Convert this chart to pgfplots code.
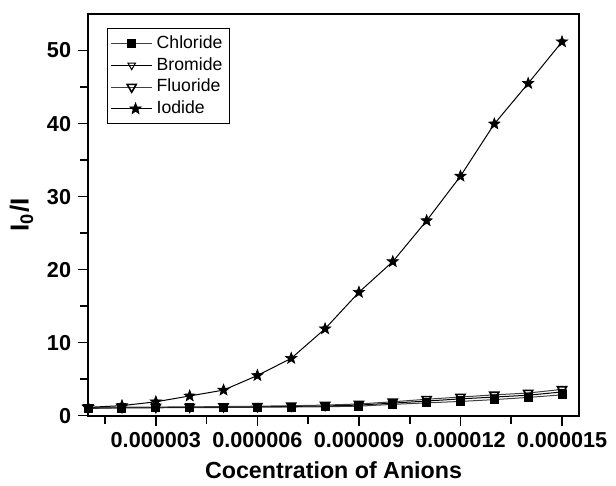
\documentclass[border=0pt]{standalone}
\usepackage{fontspec}
\setmainfont{Liberation Sans}
\usepackage{pgfplots}
\usetikzlibrary{shapes.geometric}
\pgfplotsset{compat=1.18}
\pgfdeclareplotmark{fstar}{%
  \node[star, star points=5, star point ratio=2.4, fill=black, draw=black, line width=0.3pt, inner sep=0pt, minimum size=2\pgfplotmarksize] {};}
\begin{document}
\begin{tikzpicture}
\begin{axis}[
  scale only axis, width=245pt, height=200.5pt,
  xmin=1e-6, xmax=15.5e-6, ymin=0, ymax=55,
  axis line style={line width=1pt},
  xtick={3e-6,6e-6,9e-6,12e-6,15e-6},
  xticklabels={0.000003,0.000006,0.000009,0.000012,0.000015},
  minor xtick={1.5e-6,4.5e-6,7.5e-6,10.5e-6,13.5e-6},
  ytick={0,10,20,30,40,50},
  minor ytick={5,15,25,35,45},
  scaled x ticks=false,
  tick pos=left, tick align=outside,
  major tick length=5pt, minor tick length=4pt,
  tick style={line width=0.8pt, black},
  /pgf/number format/assume math mode=true,
  tick label style={font=\bfseries\fontsize{10.8}{12}\selectfont},
  xlabel={\textbf{Cocentration of Anions}},
  ylabel={\textbf{I\textsubscript{0}/I}},
  xlabel style={font=\fontsize{11.6}{13}\selectfont},
  ylabel style={font=\fontsize{13}{15}\selectfont},
  legend style={at={(0,1)}, xshift=9.5pt, yshift=-7pt, anchor=north west,
    font=\fontsize{8.8}{9.6}\selectfont, draw=black, line width=0.5pt,
    row sep=-1pt, inner sep=1.5pt},
  legend image code/.code={\draw[mark repeat=2,mark phase=2] plot coordinates {(0cm,0cm)(0.36cm,0cm)(0.72cm,0cm)};},
  legend cell align=left,
]
\addplot[black!75, line width=0.5pt, mark=square*, mark size=2pt, mark options={black, fill=black}] coordinates {
(1e-6,1.0)(2e-6,1.05)(3e-6,1.08)(4e-6,1.1)(5e-6,1.12)(6e-6,1.15)(7e-6,1.18)(8e-6,1.22)
(9e-6,1.3)(10e-6,1.55)(11e-6,1.75)(12e-6,1.95)(13e-6,2.2)(14e-6,2.5)(15e-6,2.85)};
\addlegendentry{Chloride}
\addplot[black, line width=0.5pt, mark=triangle, mark size=2.2pt, mark options={rotate=180, fill=white, black}] coordinates {
(1e-6,1.05)(2e-6,1.1)(3e-6,1.12)(4e-6,1.15)(5e-6,1.18)(6e-6,1.22)(7e-6,1.27)(8e-6,1.33)
(9e-6,1.45)(10e-6,1.72)(11e-6,2.0)(12e-6,2.3)(13e-6,2.55)(14e-6,2.8)(15e-6,3.25)};
\addlegendentry{Bromide}
\addplot[black!75, line width=0.5pt, mark=triangle, mark size=2.6pt, mark options={rotate=180, fill=white, black, line width=0.8pt}] coordinates {
(1e-6,1.1)(2e-6,1.15)(3e-6,1.18)(4e-6,1.2)(5e-6,1.25)(6e-6,1.3)(7e-6,1.36)(8e-6,1.45)
(9e-6,1.6)(10e-6,1.9)(11e-6,2.25)(12e-6,2.55)(13e-6,2.85)(14e-6,3.1)(15e-6,3.6)};
\addlegendentry{Fluoride}
\addplot[black, line width=0.5pt, mark=fstar, mark size=3pt] coordinates {
(1e-6,1.14)(2e-6,1.37)(3e-6,1.9)(4e-6,2.7)(5e-6,3.5)(6e-6,5.5)(7e-6,7.85)(8e-6,11.9)
(9e-6,16.9)(10e-6,21.1)(11e-6,26.7)(12e-6,32.8)(13e-6,39.95)(14e-6,45.5)(15e-6,51.2)};
\addlegendentry{Iodide}
\end{axis}
\path (current axis.south west) ++(-44pt,-35pt);
\path (current axis.north east) ++(18.5pt,7pt);
\end{tikzpicture}
\end{document}
